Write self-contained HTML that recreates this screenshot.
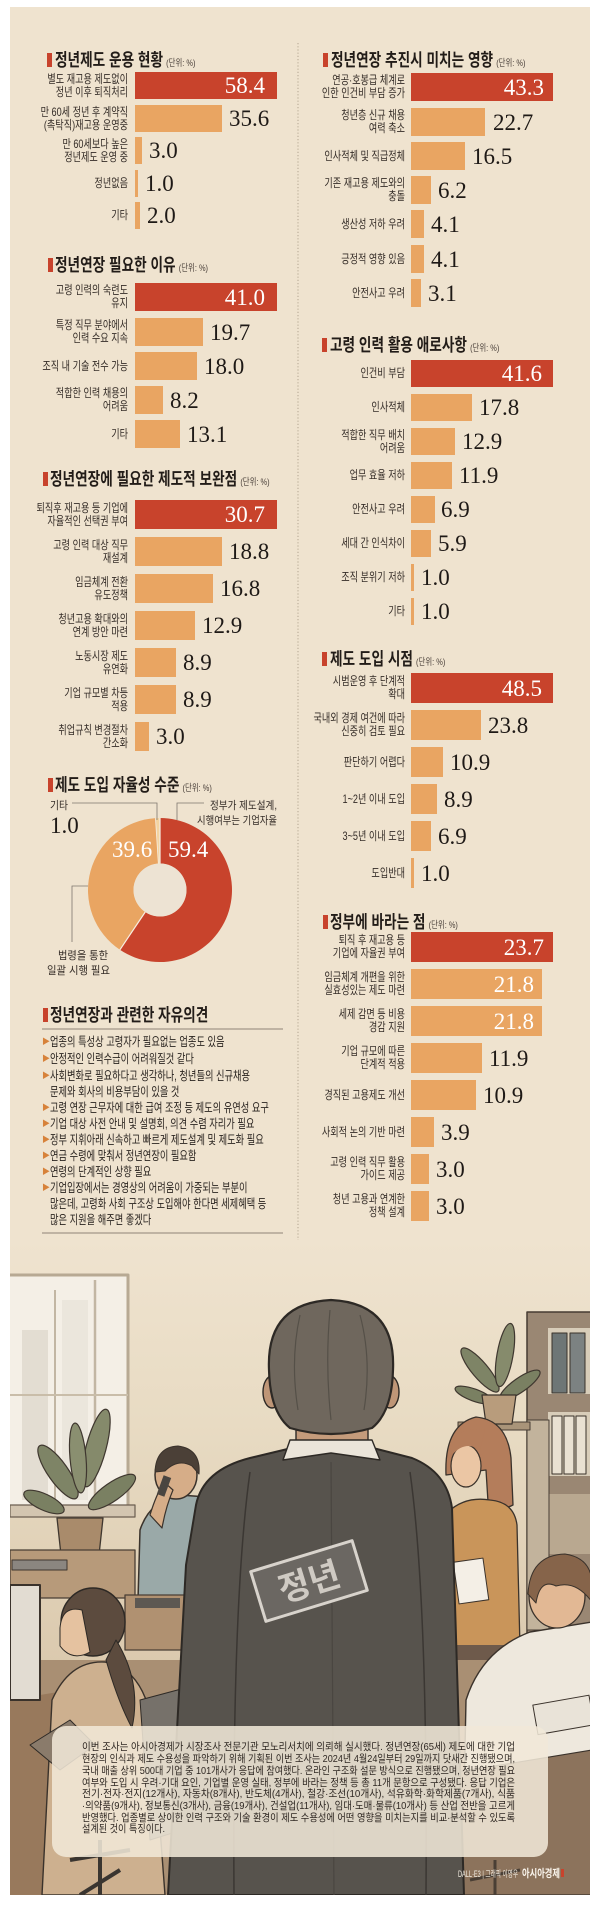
<!DOCTYPE html>
<html><head><meta charset="utf-8">
<style>
*{margin:0;padding:0;box-sizing:border-box}
html,body{width:600px;height:1908px;background:#fff;overflow:hidden}
body{position:relative;font-family:"Liberation Sans","Noto Sans CJK KR",sans-serif;color:#2b2420}
#panel{position:absolute;left:10px;top:7px;width:580px;height:1888px;background:#efe3cf}
svg.ov{position:absolute;left:0;top:0}
.bar{position:absolute;background:#e9a562}
.bar.r{background:#c8432c}
.lab{position:absolute;display:flex;flex-direction:column;justify-content:center;align-items:flex-end;text-align:right;font-size:12px;line-height:13px;color:#342c27;transform:scaleX(0.76);transform-origin:right center;white-space:nowrap}
.L{left:0;width:128px}
.R{left:300px;width:105px}
.val{position:absolute;font-family:"Liberation Serif",serif;font-size:23px;line-height:1;color:#1e1916;display:flex;align-items:center;white-space:nowrap}
.val.w{color:#fff;justify-content:flex-end}
.ttl{position:absolute;font-size:17.5px;font-weight:bold;white-space:nowrap;transform:scaleX(0.78);transform-origin:left center;line-height:20px;height:20px;color:#221c18}
.ttl small{font-size:9.5px;font-weight:normal;color:#4a403a;margin-left:4px}
.mk{position:absolute;width:4.5px;height:14px;background:#c8432c}
.op{position:absolute;left:50px;height:16px;line-height:16px;font-size:12.5px;color:#2a2420;white-space:nowrap;transform:scaleX(0.74);transform-origin:left center}
.bl{position:absolute;left:42px;height:16px;line-height:16px;font-size:8px;color:#d7823a}
</style></head><body>
<div id="panel"></div>

<svg class="ov" width="600" height="1908" viewBox="0 0 600 1908" xmlns="http://www.w3.org/2000/svg" font-family="Liberation Sans, Noto Sans CJK KR, sans-serif">
<defs>
<clipPath id="ill"><rect x="10" y="1240" width="580" height="655"/></clipPath>
<linearGradient id="wall" x1="0" y1="1240" x2="0" y2="1700" gradientUnits="userSpaceOnUse">
<stop offset="0" stop-color="#efe3cf"/><stop offset="0.4" stop-color="#e8dbc3"/><stop offset="1" stop-color="#d9c7ab"/>
</linearGradient>
</defs>
<line x1="298" y1="43" x2="298" y2="1249" stroke="#b3a590" stroke-width="1" stroke-dasharray="1.2,2"/>
<line x1="42" y1="1029" x2="283" y2="1029" stroke="#8f8377" stroke-width="1"/>
<line x1="42" y1="1233" x2="283" y2="1233" stroke="#8f8377" stroke-width="1"/>

<!-- donut -->
<path d="M160,818 A72,72 0 1 1 119.90,949.80 L145.24,912.01 A26.5,26.5 0 1 0 160,863.5 Z" fill="#c8432c"/>
<path d="M119.90,949.80 A72,72 0 0 1 155.48,818.14 L158.34,863.55 A26.5,26.5 0 0 0 145.24,912.01 Z" fill="#e9a562"/>
<path d="M155.48,818.14 A72,72 0 0 1 160,818 L160,863.5 A26.5,26.5 0 0 0 158.34,863.55 Z" fill="#f3d3a0"/>
<line x1="160" y1="818" x2="160" y2="863.5" stroke="#f6eee2" stroke-width="1.2"/>
<line x1="119.90" y1="949.80" x2="145.24" y2="912.01" stroke="#f6eee2" stroke-width="1.2"/>
<line x1="155.48" y1="818.14" x2="158.34" y2="863.55" stroke="#f6eee2" stroke-width="0.8"/>
<circle cx="160" cy="890" r="26.5" fill="#ede3d3"/>
<text x="168" y="857" font-family="Liberation Serif, serif" font-size="23" fill="#fff">59.4</text>
<text x="112" y="857" font-family="Liberation Serif, serif" font-size="23" fill="#fff">39.6</text>
<polyline points="72,803 157,803 157,820" fill="none" stroke="#7d756d" stroke-width="0.8"/>
<polyline points="204,803 177,803 177,820" fill="none" stroke="#7d756d" stroke-width="0.8"/>
<polyline points="88,886 72,886 72,942" fill="none" stroke="#7d756d" stroke-width="0.8"/>
<text x="50" y="809" font-size="11" fill="#342c27" textLength="18" lengthAdjust="spacingAndGlyphs">기타</text>
<text x="50" y="833" font-family="Liberation Serif, serif" font-size="23" fill="#1e1916">1.0</text>
<text x="210" y="809" font-size="11" fill="#342c27" textLength="67" lengthAdjust="spacingAndGlyphs">정부가 제도설계,</text>
<text x="197" y="824" font-size="11" fill="#342c27" textLength="80" lengthAdjust="spacingAndGlyphs">시행여부는 기업자율</text>
<text x="58" y="959" font-size="11" fill="#342c27" textLength="50" lengthAdjust="spacingAndGlyphs">법령을 통한</text>
<text x="47" y="974" font-size="11" fill="#342c27" textLength="63" lengthAdjust="spacingAndGlyphs">일괄 시행 필요</text>

<!-- illustration -->
<g clip-path="url(#ill)" stroke-linejoin="round">
<rect x="10" y="1240" width="580" height="655" fill="url(#wall)"/>
<rect x="10" y="1275" width="118" height="240" fill="#f4efe6"/>
<rect x="22" y="1330" width="26" height="170" fill="#e3ddd2"/>
<rect x="62" y="1300" width="26" height="200" fill="#ebe6dc"/>
<path d="M10 1275 H128 V1515" stroke="#b7a993" stroke-width="3" fill="none"/>
<line x1="55" y1="1290" x2="55" y2="1510" stroke="#c2b6a3" stroke-width="2"/>
<line x1="95" y1="1280" x2="95" y2="1510" stroke="#c2b6a3" stroke-width="2.5"/>
<line x1="10" y1="1395" x2="128" y2="1395" stroke="#c9bda9" stroke-width="2"/>
<rect x="10" y="1505" width="125" height="12" fill="#d3c5b0" stroke="#6b5e50" stroke-width="1.2"/>
<ellipse cx="58" cy="1472" rx="10" ry="32" transform="rotate(-35 58 1472)" fill="#7e8466" stroke="#3f372f" stroke-width="1.2"/>
<ellipse cx="96" cy="1448" rx="10" ry="40" transform="rotate(15 96 1448)" fill="#858a6b" stroke="#3f372f" stroke-width="1.2"/>
<ellipse cx="112" cy="1492" rx="9" ry="28" transform="rotate(55 112 1492)" fill="#7a8062" stroke="#3f372f" stroke-width="1.2"/>
<ellipse cx="44" cy="1502" rx="8" ry="22" transform="rotate(-65 44 1502)" fill="#7a8062" stroke="#3f372f" stroke-width="1.2"/>
<ellipse cx="78" cy="1458" rx="8" ry="35" transform="rotate(-5 78 1458)" fill="#8a8f70" stroke="#3f372f" stroke-width="1.2"/>
<path d="M57 1518 H103 L99 1555 H61 Z" fill="#a98b6b" stroke="#3f372f" stroke-width="1.3"/>
<rect x="10" y="1550" width="125" height="48" fill="#b79a7a" stroke="#4a3f35" stroke-width="1.3"/>
<rect x="12" y="1560" width="55" height="10" fill="#8b8680" stroke="#3f372f"/>
<path d="M138 1600 L140 1530 Q150 1500 180 1495 L207 1497 L210 1605 Z" fill="#9aa9a8" stroke="#3a322b" stroke-width="1.5"/>
<ellipse cx="176" cy="1475" rx="21" ry="24" fill="#d6ad88" stroke="#3a322b" stroke-width="1.5"/>
<path d="M155 1472 Q156 1447 178 1446 Q201 1449 199 1474 L192 1466 Q178 1458 165 1471 Z" fill="#4b4037" stroke="#3a322b"/>
<path d="M150 1515 Q156 1495 164 1482 L173 1490 Q166 1506 162 1528 Z" fill="#d6ad88" stroke="#3a322b" stroke-width="1.2"/>
<rect x="160" y="1476" width="8" height="20" fill="#4a4540" transform="rotate(20 164 1486)"/>
<rect x="125" y="1595" width="95" height="55" fill="#b09171" stroke="#4a3f35" stroke-width="1.3"/>
<rect x="135" y="1598" width="45" height="10" fill="#5d5852"/>
<rect x="527" y="1312" width="65" height="345" fill="#9a8773" stroke="#463c33" stroke-width="1.5"/>
<rect x="548" y="1328" width="44" height="66" fill="#d8cdb9"/>
<rect x="552" y="1333" width="15" height="60" fill="#6e7676" stroke="#3a322b"/>
<rect x="570" y="1333" width="15" height="60" fill="#7c8282" stroke="#3a322b"/>
<rect x="548" y="1412" width="44" height="64" fill="#d8cdb9"/>
<rect x="552" y="1416" width="10" height="58" fill="#e9e1d2" stroke="#3a322b"/>
<rect x="564" y="1416" width="10" height="58" fill="#e9e1d2" stroke="#3a322b"/>
<rect x="576" y="1416" width="10" height="58" fill="#e9e1d2" stroke="#3a322b"/>
<rect x="548" y="1494" width="44" height="60" fill="#b9a890"/>
<rect x="527" y="1420" width="22" height="210" fill="#c2b39c" stroke="#463c33"/>
<rect x="458" y="1422" width="72" height="8" fill="#a99479" stroke="#463c33"/>
<ellipse cx="480" cy="1370" rx="8" ry="28" transform="rotate(-40 480 1370)" fill="#7e8466" stroke="#3f372f" stroke-width="1.2"/>
<ellipse cx="505" cy="1355" rx="8" ry="32" transform="rotate(10 505 1355)" fill="#868b6c" stroke="#3f372f" stroke-width="1.2"/>
<ellipse cx="520" cy="1385" rx="7" ry="24" transform="rotate(55 520 1385)" fill="#7a8062" stroke="#3f372f" stroke-width="1.2"/>
<ellipse cx="474" cy="1395" rx="6" ry="20" transform="rotate(-70 474 1395)" fill="#7a8062" stroke="#3f372f" stroke-width="1.2"/>
<path d="M482 1395 H516 L512 1424 H486 Z" fill="#b89c7c" stroke="#3a322b" stroke-width="1.2"/>
<path d="M446 1475 Q444 1425 476 1417 Q507 1420 511 1458 L513 1505 Q500 1512 488 1502 L486 1470 Z" fill="#b47d5b" stroke="#3a322b" stroke-width="1.3"/>
<ellipse cx="466" cy="1466" rx="15" ry="21" fill="#ebc6a4" stroke="#3a322b" stroke-width="1.2"/>
<path d="M450 1445 Q460 1425 485 1430 L480 1450 Q465 1440 452 1455 Z" fill="#b47d5b"/>
<path d="M448 1512 Q465 1496 490 1500 Q514 1502 517 1525 L520 1648 L448 1648 Z" fill="#c9955a" stroke="#3a322b" stroke-width="1.3"/>
<rect x="456" y="1560" width="30" height="42" fill="#f4efe6" stroke="#3a322b" transform="rotate(-8 471 1581)"/>
<rect x="452" y="1645" width="62" height="50" fill="#6e5a4b"/>
<rect x="10" y="1660" width="580" height="240" fill="#a98f73"/>
<path d="M10 1700 L70 1690 L55 1895 L10 1895 Z" fill="#98795c"/>
<rect x="10" y="1585" width="30" height="115" fill="#e2dcd2" stroke="#3a322b" stroke-width="2"/>
<path d="M52 1700 Q70 1660 105 1662 Q142 1668 152 1722 L165 1895 L42 1895 Z" fill="#cdb08f" stroke="#3a322b" stroke-width="1.4"/>
<ellipse cx="93" cy="1622" rx="32" ry="34" fill="#5c4b3e" stroke="#2d2925" stroke-width="1.4"/>
<path d="M60 1628 Q62 1605 82 1610 L90 1652 Q72 1662 60 1646 Z" fill="#e5c2a0" stroke="#2d2925"/>
<path d="M116 1640 Q142 1682 132 1728 Q118 1702 106 1660 Z" fill="#5c4b3e" stroke="#2d2925"/>
<path d="M30 1745 L70 1720 L95 1745 L60 1770 Z" fill="#8a7b6b" stroke="#2d2925"/>
<path d="M140 1700 L185 1688 L182 1830 L150 1840 Z" fill="#76716a" stroke="#2d2925"/>
<path d="M70 1860 L130 1850 M100 1840 L100 1895 M80 1895 L120 1870" stroke="#3a3530" stroke-width="4" fill="none"/>
<path d="M462 1895 L466 1700 Q482 1650 530 1632 L592 1622 L592 1895 Z" fill="#eee8dd" stroke="#3a322b" stroke-width="1.4"/>
<ellipse cx="557" cy="1596" rx="28" ry="32" fill="#e2b894" stroke="#3a322b" stroke-width="1.3"/>
<path d="M528 1594 Q530 1555 565 1554 Q592 1558 592 1585 L592 1602 Q576 1580 556 1586 Q540 1578 536 1603 Z" fill="#86644a" stroke="#3a322b"/>
<rect x="535" y="1700" width="57" height="30" fill="#e9e3d8" stroke="#3a322b" transform="rotate(-10 563 1715)"/>
<path d="M440 1775 L592 1750 L592 1895 L440 1895 Z" fill="#8c735c" stroke="#3a322b" stroke-width="1.2"/>
<path d="M470 1880 L520 1870 M495 1860 L495 1895" stroke="#4a3f35" stroke-width="3" fill="none"/>
<path d="M296 1400 H368 V1450 H296 Z" fill="#c49b7b" stroke="#2d2925" stroke-width="1.4"/>
<path d="M196 1505 Q203 1470 250 1458 L300 1446 L365 1446 L412 1458 Q447 1472 452 1508 L464 1895 L168 1895 L186 1565 Z" fill="#57534d" stroke="#2d2925" stroke-width="2"/>
<path d="M250 1472 Q232 1600 234 1895" stroke="#3b3733" stroke-width="1.5" fill="none"/>
<path d="M410 1472 Q428 1600 426 1895" stroke="#3b3733" stroke-width="1.5" fill="none"/>
<path d="M331 1462 L334 1895" stroke="#4a4641" stroke-width="1.2" fill="none"/>
<path d="M290 1440 L372 1440 L380 1460 L331 1453 L283 1460 Z" fill="#ebe5da" stroke="#2d2925" stroke-width="1.4"/>
<ellipse cx="272" cy="1392" rx="9" ry="16" fill="#bf9677" stroke="#2d2925" stroke-width="1.4"/>
<ellipse cx="390" cy="1392" rx="9" ry="16" fill="#bf9677" stroke="#2d2925" stroke-width="1.4"/>
<path d="M269 1370 Q266 1303 331 1300 Q396 1303 393 1370 Q392 1412 372 1428 Q331 1440 290 1428 Q270 1412 269 1370 Z" fill="#6f675d" stroke="#2d2925" stroke-width="2.2"/>
<path d="M300 1315 Q290 1360 298 1410 M330 1310 Q325 1365 331 1420 M360 1315 Q372 1360 364 1410" stroke="#555048" stroke-width="1.2" fill="none"/>
<g transform="rotate(-17 309 1581)">
<rect x="256" y="1555" width="106" height="52" fill="#6b6762" stroke="#d8d3cc" stroke-width="3"/>
<text x="309" y="1594" font-size="34" font-weight="bold" fill="#cfcac3" text-anchor="middle">정년</text>
</g>
<rect x="52" y="1726" width="496" height="131" rx="14" fill="#f1e8d8" fill-opacity="0.87"/>
</g>
<g font-size="10.5" fill="#2e2722">
<text x="82" y="1750" textLength="433" lengthAdjust="spacingAndGlyphs">이번 조사는 아시아경제가 시장조사 전문기관 모노리서치에 의뢰해 실시했다. 정년연장(65세) 제도에 대한 기업</text>
<text x="82" y="1762" textLength="433" lengthAdjust="spacingAndGlyphs">현장의 인식과 제도 수용성을 파악하기 위해 기획된 이번 조사는 2024년 4월24일부터 29일까지 닷새간 진행됐으며,</text>
<text x="82" y="1774" textLength="433" lengthAdjust="spacingAndGlyphs">국내 매출 상위 500대 기업 중 101개사가 응답에 참여했다. 온라인 구조화 설문 방식으로 진행됐으며, 정년연장 필요</text>
<text x="82" y="1786" textLength="433" lengthAdjust="spacingAndGlyphs">여부와 도입 시 우려·기대 요인, 기업별 운영 실태, 정부에 바라는 정책 등 총 11개 문항으로 구성됐다. 응답 기업은</text>
<text x="82" y="1797" textLength="433" lengthAdjust="spacingAndGlyphs">전기·전자·전지(12개사), 자동차(8개사), 반도체(4개사), 철강·조선(10개사), 석유화학·화학제품(7개사), 식품</text>
<text x="82" y="1809" textLength="433" lengthAdjust="spacingAndGlyphs">·의약품(9개사), 정보통신(3개사), 금융(19개사), 건설업(11개사), 임대·도매·물류(10개사) 등 산업 전반을 고르게</text>
<text x="82" y="1821" textLength="433" lengthAdjust="spacingAndGlyphs">반영했다. 업종별로 상이한 인력 구조와 기술 환경이 제도 수용성에 어떤 영향을 미치는지를 비교·분석할 수 있도록</text>
<text x="82" y="1832" textLength="83" lengthAdjust="spacingAndGlyphs">설계된 것이 특징이다.</text>
</g>
<text x="458" y="1877" font-size="9" fill="#f3ede2" textLength="60" lengthAdjust="spacingAndGlyphs">DALL·E3 | 그래픽 이영우</text>
<text x="522" y="1877" font-size="11" font-weight="bold" fill="#fbf6ee" textLength="38" lengthAdjust="spacingAndGlyphs">아시아경제</text>
<rect x="561" y="1869" width="3" height="8" fill="#c8432c"/>
</svg>

<!-- ============ LEFT COLUMN ============ -->
<div class="mk" style="left:47px;top:53px"></div>
<div class="ttl" style="left:55px;top:50px">정년제도 운용 현황<small>(단위: %)</small></div>
<div class="bar r" style="left:135px;top:72px;width:142px;height:27px"></div>
<div class="bar" style="left:135px;top:105px;width:86.6px;height:27px"></div>
<div class="bar" style="left:135px;top:137px;width:7.3px;height:27px"></div>
<div class="bar" style="left:135px;top:170px;width:3px;height:27px"></div>
<div class="bar" style="left:135px;top:202px;width:4.9px;height:27px"></div>
<div class="lab L" style="top:72px;height:27px"><span>별도 재고용 제도없이<br>정년 이후 퇴직처리</span></div>
<div class="lab L" style="top:105px;height:27px"><span>만 60세 정년 후 계약직<br>(촉탁직)재고용 운영중</span></div>
<div class="lab L" style="top:137px;height:27px"><span>만 60세보다 높은<br>정년제도 운영 중</span></div>
<div class="lab L" style="top:170px;height:27px"><span>정년없음</span></div>
<div class="lab L" style="top:202px;height:27px"><span>기타</span></div>
<div class="val w" style="left:135px;width:130px;top:72px;height:27px">58.4</div>
<div class="val" style="left:229px;top:105px;height:27px">35.6</div>
<div class="val" style="left:149px;top:137px;height:27px">3.0</div>
<div class="val" style="left:145px;top:170px;height:27px">1.0</div>
<div class="val" style="left:147px;top:202px;height:27px">2.0</div>

<div class="mk" style="left:48px;top:258px"></div>
<div class="ttl" style="left:55px;top:255px">정년연장 필요한 이유<small>(단위: %)</small></div>
<div class="bar r" style="left:135px;top:283px;width:142px;height:28px"></div>
<div class="bar" style="left:135px;top:318px;width:68.2px;height:28px"></div>
<div class="bar" style="left:135px;top:352px;width:62.3px;height:28px"></div>
<div class="bar" style="left:135px;top:386px;width:28.4px;height:28px"></div>
<div class="bar" style="left:135px;top:420px;width:45.4px;height:28px"></div>
<div class="lab L" style="top:283px;height:28px"><span>고령 인력의 숙련도<br>유지</span></div>
<div class="lab L" style="top:318px;height:28px"><span>특정 직무 분야에서<br>인력 수요 지속</span></div>
<div class="lab L" style="top:352px;height:28px"><span>조직 내 기술 전수 가능</span></div>
<div class="lab L" style="top:386px;height:28px"><span>적합한 인력 채용의<br>어려움</span></div>
<div class="lab L" style="top:420px;height:28px"><span>기타</span></div>
<div class="val w" style="left:135px;width:130px;top:283px;height:28px">41.0</div>
<div class="val" style="left:210px;top:318px;height:28px">19.7</div>
<div class="val" style="left:204px;top:352px;height:28px">18.0</div>
<div class="val" style="left:170px;top:386px;height:28px">8.2</div>
<div class="val" style="left:187px;top:420px;height:28px">13.1</div>

<div class="mk" style="left:43px;top:472px"></div>
<div class="ttl" style="left:50px;top:469px">정년연장에 필요한 제도적 보완점<small>(단위: %)</small></div>
<div class="bar r" style="left:135px;top:500px;width:142px;height:29px"></div>
<div class="bar" style="left:135px;top:537px;width:87px;height:29px"></div>
<div class="bar" style="left:135px;top:574px;width:77.7px;height:29px"></div>
<div class="bar" style="left:135px;top:611px;width:59.7px;height:29px"></div>
<div class="bar" style="left:135px;top:648px;width:41.2px;height:29px"></div>
<div class="bar" style="left:135px;top:685px;width:41.2px;height:29px"></div>
<div class="bar" style="left:135px;top:722px;width:13.9px;height:29px"></div>
<div class="lab L" style="top:500px;height:29px"><span>퇴직후 재고용 등 기업에<br>자율적인 선택권 부여</span></div>
<div class="lab L" style="top:537px;height:29px"><span>고령 인력 대상 직무<br>재설계</span></div>
<div class="lab L" style="top:574px;height:29px"><span>임금체계 전환<br>유도정책</span></div>
<div class="lab L" style="top:611px;height:29px"><span>청년고용 확대와의<br>연계 방안 마련</span></div>
<div class="lab L" style="top:648px;height:29px"><span>노동시장 제도<br>유연화</span></div>
<div class="lab L" style="top:685px;height:29px"><span>기업 규모별 차등<br>적용</span></div>
<div class="lab L" style="top:722px;height:29px"><span>취업규칙 변경절차<br>간소화</span></div>
<div class="val w" style="left:135px;width:130px;top:500px;height:29px">30.7</div>
<div class="val" style="left:229px;top:537px;height:29px">18.8</div>
<div class="val" style="left:220px;top:574px;height:29px">16.8</div>
<div class="val" style="left:202px;top:611px;height:29px">12.9</div>
<div class="val" style="left:183px;top:648px;height:29px">8.9</div>
<div class="val" style="left:183px;top:685px;height:29px">8.9</div>
<div class="val" style="left:156px;top:722px;height:29px">3.0</div>

<div class="mk" style="left:48px;top:778px"></div>
<div class="ttl" style="left:55px;top:775px">제도 도입 자율성 수준<small>(단위: %)</small></div>

<div class="mk" style="left:43px;top:1008px"></div>
<div class="ttl" style="left:50px;top:1005px">정년연장과 관련한 자유의견</div>
<div class="bl" style="top:1034px">▶</div><div class="op" style="top:1034px">업종의 특성상 고령자가 필요없는 업종도 있음</div>
<div class="bl" style="top:1051px">▶</div><div class="op" style="top:1051px">안정적인 인력수급이 어려워질것 같다</div>
<div class="bl" style="top:1068px">▶</div><div class="op" style="top:1068px">사회변화로 필요하다고 생각하나, 청년들의 신규채용</div>
<div class="op" style="top:1084px">문제와 회사의 비용부담이 있을 것</div>
<div class="bl" style="top:1100px">▶</div><div class="op" style="top:1100px">고령 연장 근무자에 대한 급여 조정 등 제도의 유연성 요구</div>
<div class="bl" style="top:1116px">▶</div><div class="op" style="top:1116px">기업 대상 사전 안내 및 설명회, 의견 수렴 자리가 필요</div>
<div class="bl" style="top:1132px">▶</div><div class="op" style="top:1132px">정부 지휘아래 신속하고 빠르게 제도설계 및 제도화 필요</div>
<div class="bl" style="top:1148px">▶</div><div class="op" style="top:1148px">연금 수령에 맞춰서 정년연장이 필요함</div>
<div class="bl" style="top:1164px">▶</div><div class="op" style="top:1164px">연령의 단계적인 상향 필요</div>
<div class="bl" style="top:1180px">▶</div><div class="op" style="top:1180px">기업입장에서는 경영상의 어려움이 가중되는 부분이</div>
<div class="op" style="top:1196px">많은데, 고령화 사회 구조상 도입해야 한다면 세제혜택 등</div>
<div class="op" style="top:1212px">많은 지원을 해주면 좋겠다</div>

<!-- ============ RIGHT COLUMN ============ -->
<div class="mk" style="left:323px;top:53px"></div>
<div class="ttl" style="left:331px;top:50px">정년연장 추진시 미치는 영향<small>(단위: %)</small></div>
<div class="bar r" style="left:411px;top:73px;width:142px;height:28px"></div>
<div class="bar" style="left:411px;top:108px;width:74.4px;height:28px"></div>
<div class="bar" style="left:411px;top:142px;width:54.1px;height:28px"></div>
<div class="bar" style="left:411px;top:176px;width:20.3px;height:28px"></div>
<div class="bar" style="left:411px;top:210px;width:13.4px;height:28px"></div>
<div class="bar" style="left:411px;top:245px;width:13.4px;height:28px"></div>
<div class="bar" style="left:411px;top:279px;width:10.2px;height:28px"></div>
<div class="lab R" style="top:73px;height:28px"><span>연공·호봉급 체계로<br>인한 인건비 부담 증가</span></div>
<div class="lab R" style="top:108px;height:28px"><span>청년층 신규 채용<br>여력 축소</span></div>
<div class="lab R" style="top:142px;height:28px"><span>인사적체 및 직급정체</span></div>
<div class="lab R" style="top:176px;height:28px"><span>기존 재고용 제도와의<br>충돌</span></div>
<div class="lab R" style="top:210px;height:28px"><span>생산성 저하 우려</span></div>
<div class="lab R" style="top:245px;height:28px"><span>긍정적 영향 있음</span></div>
<div class="lab R" style="top:279px;height:28px"><span>안전사고 우려</span></div>
<div class="val w" style="left:411px;width:133px;top:73px;height:28px">43.3</div>
<div class="val" style="left:493px;top:108px;height:28px">22.7</div>
<div class="val" style="left:472px;top:142px;height:28px">16.5</div>
<div class="val" style="left:438px;top:176px;height:28px">6.2</div>
<div class="val" style="left:431px;top:210px;height:28px">4.1</div>
<div class="val" style="left:431px;top:245px;height:28px">4.1</div>
<div class="val" style="left:428px;top:279px;height:28px">3.1</div>

<div class="mk" style="left:322px;top:338px"></div>
<div class="ttl" style="left:330px;top:335px">고령 인력 활용 애로사항<small>(단위: %)</small></div>
<div class="bar r" style="left:411px;top:360px;width:142px;height:27px"></div>
<div class="bar" style="left:411px;top:394px;width:60.8px;height:27px"></div>
<div class="bar" style="left:411px;top:428px;width:44px;height:27px"></div>
<div class="bar" style="left:411px;top:462px;width:40.6px;height:27px"></div>
<div class="bar" style="left:411px;top:496px;width:23.5px;height:27px"></div>
<div class="bar" style="left:411px;top:530px;width:20.1px;height:27px"></div>
<div class="bar" style="left:411px;top:564px;width:3.4px;height:27px"></div>
<div class="bar" style="left:411px;top:598px;width:3.4px;height:27px"></div>
<div class="lab R" style="top:360px;height:27px"><span>인건비 부담</span></div>
<div class="lab R" style="top:394px;height:27px"><span>인사적체</span></div>
<div class="lab R" style="top:428px;height:27px"><span>적합한 직무 배치<br>어려움</span></div>
<div class="lab R" style="top:462px;height:27px"><span>업무 효율 저하</span></div>
<div class="lab R" style="top:496px;height:27px"><span>안전사고 우려</span></div>
<div class="lab R" style="top:530px;height:27px"><span>세대 간 인식차이</span></div>
<div class="lab R" style="top:564px;height:27px"><span>조직 분위기 저하</span></div>
<div class="lab R" style="top:598px;height:27px"><span>기타</span></div>
<div class="val w" style="left:411px;width:131px;top:360px;height:27px">41.6</div>
<div class="val" style="left:479px;top:394px;height:27px">17.8</div>
<div class="val" style="left:462px;top:428px;height:27px">12.9</div>
<div class="val" style="left:459px;top:462px;height:27px">11.9</div>
<div class="val" style="left:441px;top:496px;height:27px">6.9</div>
<div class="val" style="left:438px;top:530px;height:27px">5.9</div>
<div class="val" style="left:421px;top:564px;height:27px">1.0</div>
<div class="val" style="left:421px;top:598px;height:27px">1.0</div>

<div class="mk" style="left:322px;top:652px"></div>
<div class="ttl" style="left:330px;top:649px">제도 도입 시점<small>(단위: %)</small></div>
<div class="bar r" style="left:411px;top:673px;width:142px;height:30px"></div>
<div class="bar" style="left:411px;top:710px;width:69.7px;height:30px"></div>
<div class="bar" style="left:411px;top:747px;width:31.9px;height:30px"></div>
<div class="bar" style="left:411px;top:784px;width:26.1px;height:30px"></div>
<div class="bar" style="left:411px;top:821px;width:20.2px;height:30px"></div>
<div class="bar" style="left:411px;top:858px;width:2.9px;height:30px"></div>
<div class="lab R" style="top:673px;height:30px"><span>시범운영 후 단계적<br>확대</span></div>
<div class="lab R" style="top:710px;height:30px"><span>국내외 경제 여건에 따라<br>신중히 검토 필요</span></div>
<div class="lab R" style="top:747px;height:30px"><span>판단하기 어렵다</span></div>
<div class="lab R" style="top:784px;height:30px"><span>1~2년 이내 도입</span></div>
<div class="lab R" style="top:821px;height:30px"><span>3~5년 이내 도입</span></div>
<div class="lab R" style="top:858px;height:30px"><span>도입반대</span></div>
<div class="val w" style="left:411px;width:131px;top:673px;height:30px">48.5</div>
<div class="val" style="left:488px;top:710px;height:30px">23.8</div>
<div class="val" style="left:450px;top:747px;height:30px">10.9</div>
<div class="val" style="left:444px;top:784px;height:30px">8.9</div>
<div class="val" style="left:438px;top:821px;height:30px">6.9</div>
<div class="val" style="left:421px;top:858px;height:30px">1.0</div>

<div class="mk" style="left:323px;top:915px"></div>
<div class="ttl" style="left:330px;top:912px">정부에 바라는 점<small>(단위: %)</small></div>
<div class="bar r" style="left:411px;top:932px;width:142px;height:30px"></div>
<div class="bar" style="left:411px;top:969px;width:130.6px;height:30px"></div>
<div class="bar" style="left:411px;top:1006px;width:130.6px;height:30px"></div>
<div class="bar" style="left:411px;top:1043px;width:71.3px;height:30px"></div>
<div class="bar" style="left:411px;top:1080px;width:65.3px;height:30px"></div>
<div class="bar" style="left:411px;top:1117px;width:23.4px;height:30px"></div>
<div class="bar" style="left:411px;top:1154px;width:18px;height:30px"></div>
<div class="bar" style="left:411px;top:1191px;width:18px;height:30px"></div>
<div class="lab R" style="top:932px;height:30px"><span>퇴직 후 재고용 등<br>기업에 자율권 부여</span></div>
<div class="lab R" style="top:969px;height:30px"><span>임금체계 개편을 위한<br>실효성있는 제도 마련</span></div>
<div class="lab R" style="top:1006px;height:30px"><span>세제 감면 등 비용<br>경감 지원</span></div>
<div class="lab R" style="top:1043px;height:30px"><span>기업 규모에 따른<br>단계적 적용</span></div>
<div class="lab R" style="top:1080px;height:30px"><span>경직된 고용제도 개선</span></div>
<div class="lab R" style="top:1117px;height:30px"><span>사회적 논의 기반 마련</span></div>
<div class="lab R" style="top:1154px;height:30px"><span>고령 인력 직무 활용<br>가이드 제공</span></div>
<div class="lab R" style="top:1191px;height:30px"><span>청년 고용과 연계한<br>정책 설계</span></div>
<div class="val w" style="left:411px;width:133px;top:932px;height:30px">23.7</div>
<div class="val w" style="left:411px;width:123px;top:969px;height:30px">21.8</div>
<div class="val w" style="left:411px;width:123px;top:1006px;height:30px">21.8</div>
<div class="val" style="left:489px;top:1043px;height:30px">11.9</div>
<div class="val" style="left:483px;top:1080px;height:30px">10.9</div>
<div class="val" style="left:441px;top:1117px;height:30px">3.9</div>
<div class="val" style="left:436px;top:1154px;height:30px">3.0</div>
<div class="val" style="left:436px;top:1191px;height:30px">3.0</div>
</body></html>
